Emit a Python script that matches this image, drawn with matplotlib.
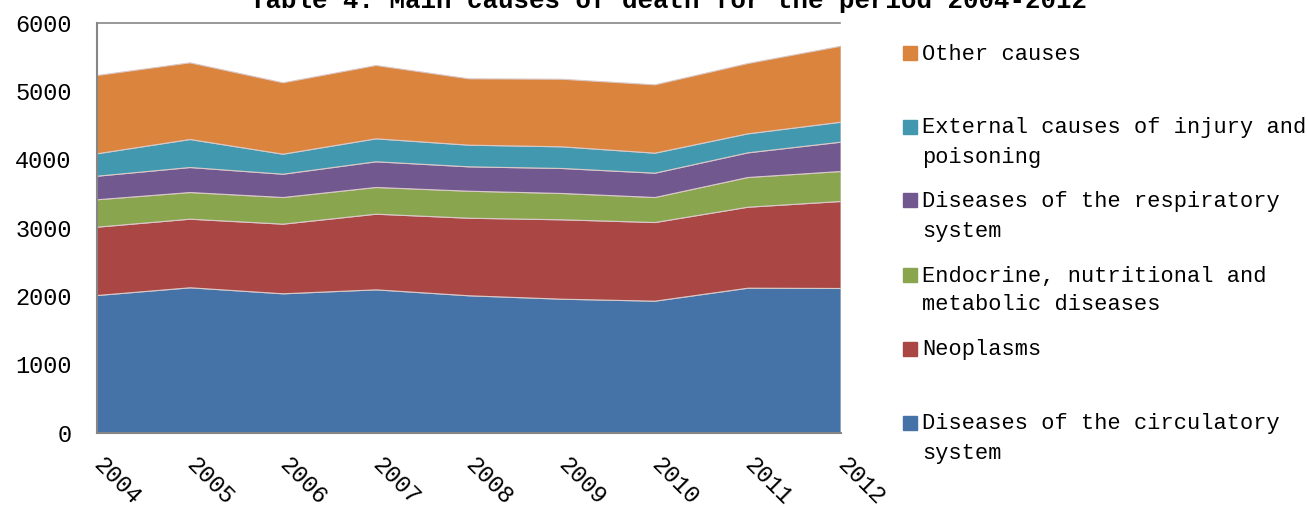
import matplotlib
matplotlib.use("Agg")
from matplotlib import pyplot as plt
from matplotlib.patches import Rectangle

years = [2004, 2005, 2006, 2007, 2008, 2009, 2010, 2011, 2012]

circulatory = [2015, 2128, 2040, 2098, 2011, 1961, 1932, 2122, 2118]
neoplasms = [1000, 1004, 1019, 1107, 1135, 1162, 1151, 1185, 1273]
endocrine = [401, 390, 390, 391, 395, 385, 366, 435, 439]
respiratory = [345, 366, 341, 376, 357, 366, 356, 361, 429]
external = [328, 410, 293, 336, 317, 317, 293, 278, 292]
other = [1146, 1122, 1045, 1073, 971, 989, 1000, 1029, 1112]

labels = ["Diseases of the circulatory\nsystem",
          "Neoplasms",
          "Endocrine, nutritional and\nmetabolic diseases",
          "Diseases of the respiratory\nsystem",
          "External causes of injury and\npoisoning",
          "Other causes"]
colors = ["#4572A7", "#AA4643", "#89A54E", "#71588F", "#4198AF", "#DB843D"]

W, H = 1308, 508
fig = plt.figure(figsize=(W / 100, H / 100), dpi=100)
ax = fig.add_axes([96.7 / W, 1 - 432.7 / H, (840.5 - 96.7) / W, (432.7 - 22.7) / H])

font = "Liberation Mono"

ax.stackplot(years, circulatory, neoplasms, endocrine, respiratory, external, other,
             colors=colors, edgecolor="#d9c9c9", linewidth=0.8, zorder=2)

ax.set_xlim(2004, 2012)
ax.set_ylim(0, 6000)
ax.set_yticks(range(0, 6001, 1000))
ax.set_xticks(years)
ax.set_yticklabels([str(v) for v in range(0, 6001, 1000)], fontsize=17, family=font)
ax.set_xticklabels([str(y) for y in years], fontsize=17, family=font,
                   rotation=-45, ha="left", va="center", rotation_mode="anchor")
ax.tick_params(axis="y", length=0, pad=18)
ax.tick_params(axis="x", length=0, pad=21)

ax.grid(axis="y", color="#868686", linewidth=1.2, zorder=0)
ax.set_axisbelow(True)
for gl in ax.get_ygridlines():
    gl.set_clip_on(False)
ax.spines["top"].set_visible(False)
ax.spines["right"].set_visible(False)
ax.spines["left"].set_color("#868686")
ax.spines["bottom"].set_color("#868686")
ax.spines["left"].set_linewidth(1.5)
ax.spines["bottom"].set_linewidth(1.5)

# title sits mostly above the canvas, as in the source image
fig.text(668 / W, 1 - 8 / H, "Table 4. Main causes of death for the period 2004-2012",
         ha="center", va="baseline", fontsize=18.5, fontweight="bold", family=font)

# legend drawn by hand, top entry first
first_base = 59.5
step = 74.0
line_gap = 29.0
for i, (lab, col) in enumerate(zip(labels[::-1], colors[::-1])):
    base = first_base + i * step
    fig.add_artist(Rectangle((903 / W, 1 - base / H), 14 / W, 14 / H,
                             transform=fig.transFigure, color=col))
    for k, line in enumerate(lab.split("\n")):
        fig.text(922 / W, 1 - (base + k * line_gap) / H, line,
                 ha="left", va="baseline", fontsize=15.8, family=font)

fig.savefig("out.png", dpi=100)
